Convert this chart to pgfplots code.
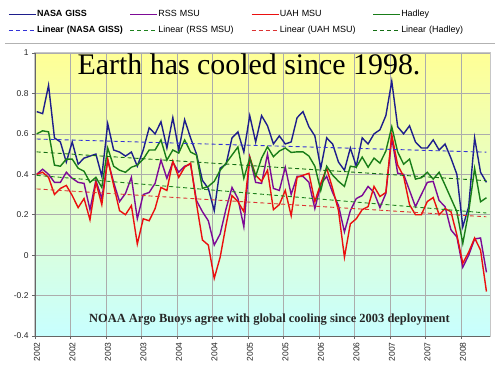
\documentclass[border=0pt]{standalone}
\usepackage{pgfplots}
\usepackage{pgfplotstable}
\pgfplotsset{compat=1.18}
\usepackage{fontspec}
\setmainfont{Liberation Sans}
\newfontfamily\seriffont{Liberation Serif}
\definecolor{cnasa}{RGB}{30,30,140}
\definecolor{crss}{RGB}{125,10,150}
\definecolor{cuah}{RGB}{235,15,15}
\definecolor{chad}{RGB}{25,125,25}
\definecolor{tnasa}{RGB}{50,50,215}
\definecolor{trss}{RGB}{30,130,30}
\definecolor{tuah}{RGB}{220,50,50}
\definecolor{thad}{RGB}{20,110,20}
\pgfplotstableread{
i nasa rss uah had
0 0.71 0.40 0.40 0.60
1 0.70 0.425 0.41 0.615
2 0.84 0.40 0.385 0.61
3 0.58 0.36 0.30 0.445
4 0.56 0.36 0.33 0.44
5 0.46 0.41 0.345 0.475
6 0.56 0.38 0.295 0.475
7 0.45 0.36 0.235 0.43
8 0.48 0.355 0.28 0.415
9 0.49 0.225 0.175 0.36
10 0.50 0.37 0.36 0.385
11 0.39 0.28 0.25 0.335
12 0.65 0.47 0.475 0.53
13 0.52 0.36 0.345 0.44
14 0.51 0.265 0.22 0.42
15 0.49 0.305 0.20 0.41
16 0.51 0.385 0.245 0.435
17 0.44 0.18 0.055 0.445
18 0.52 0.30 0.18 0.475
19 0.63 0.31 0.17 0.52
20 0.60 0.355 0.23 0.52
21 0.66 0.47 0.335 0.57
22 0.53 0.38 0.32 0.47
23 0.68 0.46 0.465 0.52
24 0.52 0.41 0.385 0.505
25 0.67 0.44 0.435 0.57
26 0.58 0.45 0.455 0.51
27 0.50 0.27 0.255 0.495
28 0.37 0.215 0.075 0.33
29 0.33 0.17 0.05 0.34
30 0.22 0.05 -0.115 0.365
31 0.43 0.105 -0.01 0.42
32 0.45 0.23 0.15 0.455
33 0.58 0.335 0.295 0.495
34 0.61 0.28 0.265 0.535
35 0.51 0.14 0.215 0.38
36 0.69 0.485 0.485 0.48
37 0.56 0.36 0.395 0.39
38 0.69 0.355 0.365 0.48
39 0.64 0.50 0.42 0.536
40 0.55 0.33 0.225 0.487
41 0.59 0.32 0.25 0.515
42 0.55 0.435 0.32 0.53
43 0.56 0.30 0.195 0.508
44 0.68 0.39 0.385 0.511
45 0.71 0.39 0.395 0.511
46 0.635 0.36 0.405 0.49
47 0.59 0.23 0.265 0.44
48 0.43 0.35 0.355 0.32
49 0.58 0.39 0.43 0.44
50 0.55 0.31 0.33 0.396
51 0.46 0.245 0.22 0.365
52 0.42 0.115 -0.01 0.34
53 0.53 0.22 0.155 0.44
54 0.44 0.28 0.18 0.435
55 0.58 0.295 0.225 0.485
56 0.55 0.34 0.24 0.435
57 0.60 0.31 0.34 0.48
58 0.62 0.235 0.29 0.455
59 0.69 0.305 0.31 0.515
60 0.86 0.58 0.595 0.635
61 0.635 0.405 0.445 0.51
62 0.60 0.40 0.39 0.45
63 0.64 0.32 0.25 0.475
64 0.56 0.24 0.20 0.376
65 0.53 0.30 0.20 0.383
66 0.53 0.36 0.265 0.41
67 0.57 0.365 0.285 0.376
68 0.52 0.27 0.20 0.41
69 0.55 0.24 0.23 0.347
70 0.48 0.125 0.215 0.281
71 0.40 0.09 0.10 0.215
72 0.14 -0.06 -0.04 0.058
73 0.24 0.0 0.015 0.215
74 0.58 0.08 0.085 0.429
75 0.41 0.085 0.025 0.264
76 0.36 -0.085 -0.18 0.284
}\data
\begin{document}
\begin{tikzpicture}
\path[use as bounding box] (0bp,0bp) rectangle (500bp,375bp);
\begin{axis}[
  at={(35bp,39bp)}, anchor=south west,
  scale only axis, width=455bp, height=283bp,
  xmin=-0.29, xmax=76.6, ymin=-0.4, ymax=1,
  axis x line*=bottom, axis y line*=left,
  axis line style={gray!80!black, line width=0.6bp},
  axis background/.style={shade, top color={rgb,255:red,255;green,255;blue,150}, bottom color={rgb,255:red,200;green,255;blue,255}, draw=gray!45, line width=1bp},
  xtick={-0.29,5.71,11.71,17.71,23.71,29.71,35.71,41.71,47.71,53.71,59.71,65.71,71.71},
  xticklabels={2002,2002,2003,2003,2004,2004,2005,2005,2006,2006,2007,2007,2008},
  ytick={-0.4,-0.2,0,0.2,0.4,0.6,0.8,1},
  yticklabels={-0.4,-0.2,0,0.2,0.4,0.6,0.8,1},
  grid=major, major grid style={gray!65, line width=0.6bp},
  tick align=outside, major tick length=3bp,
  tick style={gray!80!black, line width=0.6bp},
  ticklabel style={font=\fontsize{8.5}{10}\selectfont, text=black!85},
  xticklabel style={xshift=2bp, rotate=90, anchor=east, font=\fontsize{8.5}{10}\selectfont},
  legend columns=4,
  legend style={at={(-0.066,1.162)}, anchor=north west, draw=none, fill=none,
    font=\fontsize{9}{10}\selectfont, row sep=6bp,
    nodes={inner sep=0.5bp, text width=92bp, align=left, text height=7bp, text depth=2bp}},
  legend image code/.code={\draw[#1] (0bp,0bp) -- (27bp,0bp);},
]
\addplot[cnasa, line width=1.4bp] table[x=i, y=nasa] {\data};
\addlegendentry{\textbf{NASA GISS}}
\addplot[crss, line width=1.4bp] table[x=i, y=rss] {\data};
\addlegendentry{RSS MSU}
\addplot[cuah, line width=1.4bp] table[x=i, y=uah] {\data};
\addlegendentry{UAH MSU}
\addplot[chad, line width=1.4bp] table[x=i, y=had] {\data};
\addlegendentry{Hadley}
\addplot[tnasa, line width=0.9bp, dash pattern=on 4bp off 3bp] table[x=i, y={create col/linear regression={y=nasa}}] {\data};
\addlegendentry{\textbf{Linear (NASA GISS)}}
\addplot[trss, line width=0.9bp, dash pattern=on 4bp off 3bp] table[x=i, y={create col/linear regression={y=rss}}] {\data};
\addlegendentry{Linear (RSS MSU)}
\addplot[tuah, line width=0.9bp, dash pattern=on 4bp off 3bp] table[x=i, y={create col/linear regression={y=uah}}] {\data};
\addlegendentry{Linear (UAH MSU)}
\addplot[thad, line width=0.9bp, dash pattern=on 4bp off 3bp] table[x=i, y={create col/linear regression={y=had}}] {\data};
\addlegendentry{Linear (Hadley)}
\end{axis}
\draw[gray!60, line width=0.8bp] (5bp,332bp) -- (495bp,332bp);
\node[anchor=base, inner sep=0pt, font=\seriffont\fontsize{30}{32}\selectfont] at (249bp,300bp) {Earth has cooled since 1998.};
\node[anchor=base, inner sep=0pt, font=\seriffont\bfseries\fontsize{12.5}{14}\selectfont, text=black!85] at (269.5bp,52.5bp) {NOAA Argo Buoys agree with global cooling since 2003 deployment};
\end{tikzpicture}
\end{document}
